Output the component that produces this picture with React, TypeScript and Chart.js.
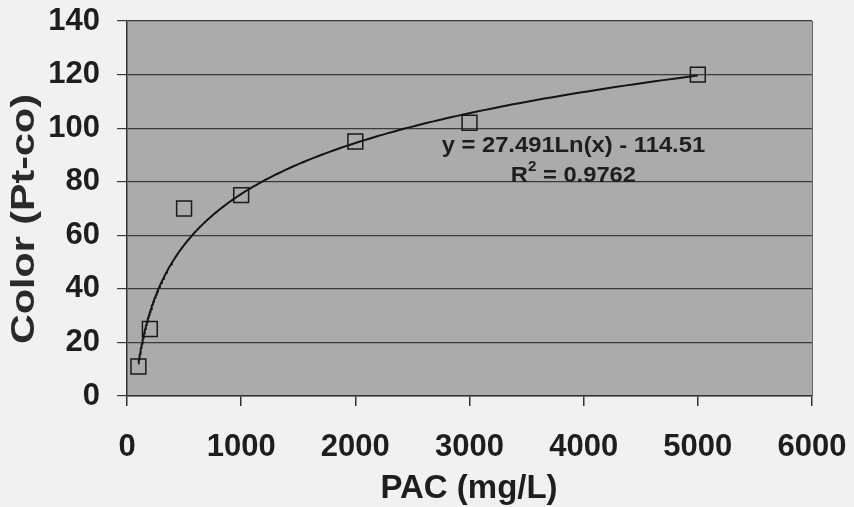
import React, { useEffect, useRef } from "react";
import { Chart, registerables } from "chart.js";

Chart.register(...registerables);

// Measured PAC dose vs. colour
const pacDose = [100, 200, 500, 1000, 2000, 3000, 5000];
const colorPtCo = [11, 25, 70, 75, 95, 102, 120];

// Logarithmic trendline coefficients: y = a·ln(x) + b
const trendA = 27.491;
const trendB = -114.51;
const trendR2 = 0.9762;
const trendFrom = 100;
const trendTo = 5000;

const xTicks = [0, 1000, 2000, 3000, 4000, 5000, 6000];
const yTicks = [0, 20, 40, 60, 80, 100, 120, 140];

const xTitle = "PAC (mg/L)";
const yTitle = "Color (Pt-co)";

const FONT = "'Liberation Sans', Arial, sans-serif";
const INK = "#1e1e1e";

function trendPoints() {
  const pts: { x: number; y: number }[] = [];
  const steps = 200;
  const l0 = Math.log(trendFrom);
  const l1 = Math.log(trendTo);
  for (let i = 0; i <= steps; i++) {
    const x = Math.exp(l0 + ((l1 - l0) * i) / steps);
    pts.push({ x, y: trendA * Math.log(x) + trendB });
  }
  return pts;
}

const decorPlugin = {
  id: "decor",
  beforeDraw(chart: any) {
    const { ctx, chartArea, width, height } = chart;
    ctx.save();
    ctx.fillStyle = "#f1f1f1";
    ctx.fillRect(0, 0, width, height);
    ctx.fillStyle = "#ababab";
    ctx.fillRect(chartArea.left, chartArea.top, chartArea.right - chartArea.left, chartArea.bottom - chartArea.top);
    ctx.strokeStyle = "#666";
    ctx.lineWidth = 1;
    ctx.beginPath();
    ctx.moveTo(chartArea.right + 0.5, chartArea.top);
    ctx.lineTo(chartArea.right + 0.5, chartArea.bottom);
    ctx.stroke();
    ctx.restore();
  },
  afterDraw(chart: any) {
    const { ctx } = chart;
    const xs = chart.scales.x;
    const ys = chart.scales.y;
    ctx.save();
    ctx.fillStyle = INK;
    ctx.textAlign = "center";
    ctx.textBaseline = "middle";

    // axis titles
    ctx.font = `bold 33px ${FONT}`;
    ctx.fillText(xTitle, 469, 489);
    ctx.save();
    ctx.translate(25, 219);
    ctx.rotate(-Math.PI / 2);
    ctx.scale(1.25, 1);
    ctx.fillStyle = "#2a2a2a";
    ctx.font = `bold 33px ${FONT}`;
    ctx.fillText(yTitle, 0, 0);
    ctx.restore();

    // trendline equation, centred under the curve
    const cx = xs.getPixelForValue(3910);
    const ey = ys.getPixelForValue(93.5);
    const ry = ys.getPixelForValue(82.3);
    ctx.save();
    ctx.translate(cx, 0);
    ctx.scale(1.08, 1);
    ctx.font = `bold 22px ${FONT}`;
    ctx.fillText(`y = ${trendA}Ln(x) - ${Math.abs(trendB)}`, 0, ey);
    const rest = ` = ${trendR2}`;
    const wR = ctx.measureText("R").width;
    const wRest = ctx.measureText(rest).width;
    ctx.font = `bold 14px ${FONT}`;
    const w2 = ctx.measureText("2").width;
    const x0 = -(wR + w2 + wRest) / 2;
    ctx.textAlign = "left";
    ctx.fillText("2", x0 + wR, ry - 8);
    ctx.font = `bold 22px ${FONT}`;
    ctx.fillText("R", x0, ry);
    ctx.fillText(rest, x0 + wR + w2, ry);
    ctx.restore();

    ctx.restore();
  },
};

export default function App() {
  const ref = useRef<HTMLCanvasElement>(null);

  useEffect(() => {
    document.body.style.margin = "0";
    const canvas = ref.current!;
    const chart = new Chart(canvas, {
      type: "scatter",
      data: {
        datasets: [
          {
            type: "line",
            data: trendPoints(),
            borderColor: "#141414",
            borderWidth: 2,
            pointRadius: 0,
            fill: false,
            tension: 0,
          } as any,
          {
            data: pacDose.map((x, i) => ({ x, y: colorPtCo[i] })),
            pointStyle: "rect",
            pointRadius: 10.5,
            pointBackgroundColor: "rgba(0,0,0,0)",
            pointBorderColor: "#1a1a1a",
            pointBorderWidth: 1.5,
            showLine: false,
          },
        ],
      },
      options: {
        animation: false,
        responsive: false,
        maintainAspectRatio: false,
        layout: { padding: { top: 21, right: 42, left: 0, bottom: 0 } },
        plugins: { legend: { display: false }, tooltip: { enabled: false } },
        scales: {
          x: {
            type: "linear",
            min: 0,
            max: 6000,
            afterBuildTicks: (s: any) => {
              s.ticks = xTicks.map((v) => ({ value: v }));
            },
            afterFit: (s: any) => {
              s.height = 111;
              s.paddingLeft = 0;
              s.paddingRight = 0;
            },
            grid: {
              drawOnChartArea: false,
              drawTicks: true,
              tickLength: 10,
              color: "#333",
              lineWidth: 1.5,
            },
            border: { display: true, color: "#333", width: 1.5 },
            ticks: {
              color: INK,
              font: { family: FONT, size: 31, weight: "bold" },
              padding: 23,
              maxRotation: 0,
              autoSkip: false,
              callback: (v: any) => String(v),
            },
          },
          y: {
            type: "linear",
            min: 0,
            max: 140,
            afterBuildTicks: (s: any) => {
              s.ticks = yTicks.map((v) => ({ value: v }));
            },
            afterFit: (s: any) => {
              s.width = 127;
              s.paddingTop = 0;
              s.paddingBottom = 0;
            },
            grid: {
              drawOnChartArea: true,
              drawTicks: true,
              tickLength: 10,
              color: "#3a3a3a",
              lineWidth: 1.2,
            },
            border: { display: true, color: "#333", width: 1.5 },
            ticks: {
              color: INK,
              font: { family: FONT, size: 31, weight: "bold" },
              padding: 17,
              autoSkip: false,
              callback: (v: any) => String(v),
            },
          },
        },
      },
      plugins: [decorPlugin],
    });
    return () => chart.destroy();
  }, []);

  return (
    <div style={{ position: "absolute", left: 0, top: 0, width: 854, height: 507 }}>
      <canvas ref={ref} width={854} height={507} style={{ width: 854, height: 507, display: "block" }} />
    </div>
  );
}
